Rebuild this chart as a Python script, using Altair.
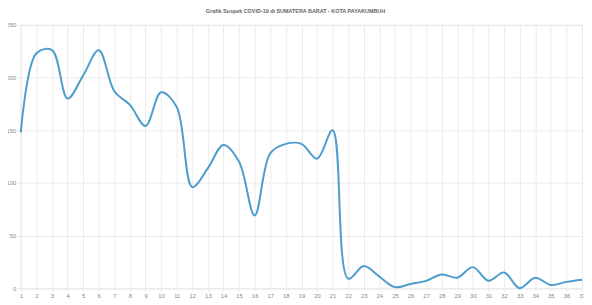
import altair as alt
import pandas as pd

days = list(range(1, 38))
suspek = [148, 223, 226, 180, 202, 226, 187, 174, 154, 186,
          172, 96, 114, 136, 120, 69, 128, 137, 137, 123,
          150, 9, 21, 11, 1, 4, 7, 13, 10, 20,
          7, 15, 0, 10, 3, 6, 8]
series = ["Suspek"] * len(days)

df = pd.DataFrame({"hari": days, "jumlah": suspek, "seri": series})

grid_color = "#ebebeb"
label_color = "#888888"

line = alt.Chart(df).mark_line(
    interpolate="catmull-rom", strokeWidth=2, opacity=0.85
).encode(
    x=alt.X("hari:Q",
            scale=alt.Scale(domain=[1, 37], nice=False, zero=False),
            axis=alt.Axis(values=days, title=None, labelFontSize=6,
                          labelColor=label_color, gridColor=grid_color,
                          tickColor=grid_color, domainColor=grid_color,
                          tickSize=3, labelPadding=1, labelFlush=False)),
    y=alt.Y("jumlah:Q",
            scale=alt.Scale(domain=[0, 250], nice=False),
            axis=alt.Axis(values=[0, 50, 100, 150, 200, 250], title=None,
                          labelFontSize=6, labelColor=label_color,
                          gridColor=grid_color, tickColor=grid_color,
                          domainColor=grid_color, tickSize=4, labelPadding=1)),
    color=alt.Color("seri:N",
                    scale=alt.Scale(range=["#2f8cc4"]),
                    legend=alt.Legend(title=None, orient="none",
                                      legendX=262, legendY=293,
                                      symbolType="stroke", symbolSize=200,
                                      symbolStrokeWidth=6, labelFontSize=6,
                                      labelColor=label_color)),
)

chart = line.properties(
    width=569,
    height=267,
    title=alt.TitleParams(
        "Grafik Suspek COVID-19 di SUMATERA BARAT - KOTA PAYAKUMBUH",
        fontSize=5.5, fontWeight="bold", color="#666666", anchor="middle",
        dx=-6, offset=8),
    autosize=alt.AutoSizeParams(type="none"),
    padding={"left": 13, "top": 15, "right": 2, "bottom": 20},
).configure_view(stroke=None).configure(font="Liberation Sans")

chart.save("out.html", embed_options={"renderer": "svg", "actions": False})
